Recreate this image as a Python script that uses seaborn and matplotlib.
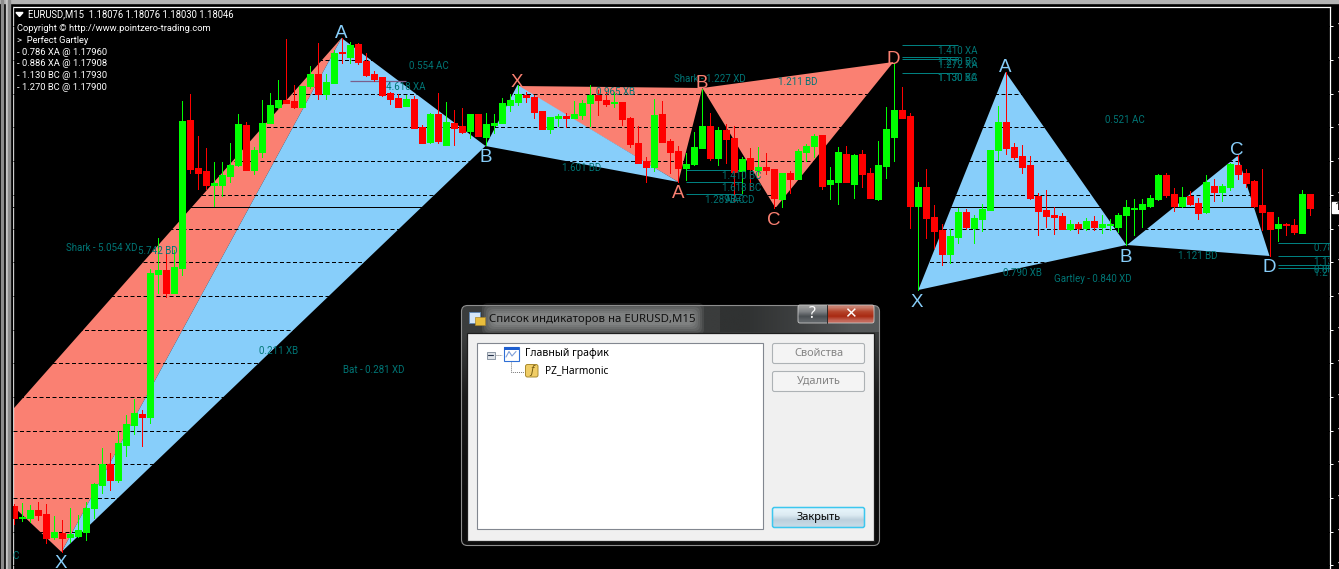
import numpy as np
import pandas as pd
import matplotlib
matplotlib.use("Agg")
import matplotlib.pyplot as plt
from matplotlib.patches import Rectangle, FancyBboxPatch, Polygon
import seaborn as sns

# EURUSD M15 candles, chart points above the base level
open_pts = [94, 82, 82, 90, 86, 63, 67, 63, 64, 68,
            92, 115, 136, 120, 155, 175, 186, 183, 326, 330,
            307, 332, 480, 432, 429, 415, 415, 424, 435, 475,
            430, 448, 477, 493, 500, 499, 493, 514, 526, 506,
            517, 548, 543, 556, 539, 526, 523, 507, 502, 494,
            501, 473, 458, 486, 455, 477, 474, 469, 486, 463,
            475, 477, 495, 498, 505, 503, 489, 471, 482, 484,
            482, 485, 497, 505, 500, 497, 498, 482, 457, 439,
            433, 486, 459, 449, 432, 436, 452, 474, 442, 470,
            462, 429, 442, 430, 433, 431, 401, 427, 421, 448,
            454, 465, 416, 418, 446, 416, 446, 427, 401, 434,
            463, 490, 484, 394, 413, 383, 370, 346, 363, 388,
            372, 381, 390, 450, 478, 453, 444, 435, 404, 390,
            385, 384, 371, 376, 372, 379, 373, 375, 373, 385,
            391, 391, 394, 401, 425, 406, 394, 404, 397, 388,
            414, 408, 413, 435, 427, 419, 395, 388, 372, 376,
            375, 367, 406]
close_pts = [82, 83, 90, 85, 62, 68, 62, 66, 70, 92,
             116, 136, 120, 157, 176, 187, 183, 327, 330, 307,
             333, 479, 431, 427, 415, 417, 425, 435, 476, 430,
             450, 477, 495, 500, 497, 493, 514, 526, 506, 518,
             547, 547, 555, 538, 525, 521, 505, 501, 493, 501,
             472, 457, 486, 459, 478, 472, 468, 486, 464, 476,
             477, 497, 500, 506, 503, 488, 471, 483, 484, 482,
             486, 497, 505, 500, 496, 498, 481, 456, 437, 433,
             485, 458, 448, 432, 436, 453, 474, 442, 470, 461,
             428, 441, 431, 433, 430, 402, 427, 421, 449, 454,
             464, 414, 420, 448, 418, 445, 426, 402, 435, 471,
             490, 482, 394, 413, 382, 369, 346, 364, 388, 373,
             382, 391, 450, 478, 452, 443, 433, 402, 389, 384,
             383, 371, 376, 372, 379, 373, 376, 376, 385, 393,
             392, 396, 402, 425, 405, 394, 403, 396, 387, 418,
             408, 414, 436, 426, 417, 394, 388, 371, 376, 375,
             368, 406, 392]
high_pts = [96, 97, 95, 98, 96, 84, 80, 92, 85, 98,
            117, 152, 147, 169, 185, 201, 190, 331, 362, 347,
            350, 499, 506, 464, 452, 438, 438, 457, 486, 478,
            453, 500, 507, 520, 561, 515, 514, 534, 557, 526,
            550, 562, 558, 557, 547, 529, 523, 508, 506, 505,
            504, 475, 487, 507, 498, 490, 492, 486, 486, 487,
            486, 502, 506, 515, 508, 505, 489, 483, 486, 487,
            499, 500, 515, 510, 508, 508, 498, 483, 474, 443,
            501, 499, 461, 454, 447, 468, 511, 487, 473, 476,
            474, 443, 452, 453, 447, 431, 427, 429, 451, 456,
            466, 465, 433, 453, 454, 446, 450, 432, 459, 493,
            537, 513, 487, 418, 431, 395, 376, 371, 392, 391,
            385, 396, 450, 494, 528, 457, 455, 444, 407, 410,
            393, 387, 380, 378, 382, 384, 385, 381, 387, 400,
            401, 401, 405, 426, 427, 412, 413, 409, 402, 425,
            421, 416, 437, 446, 431, 420, 431, 388, 383, 377,
            381, 410, 406]
low_pts = [76, 79, 78, 80, 57, 61, 48, 58, 63, 60,
           82, 107, 110, 118, 144, 166, 154, 177, 307, 303,
           307, 325, 427, 411, 411, 394, 404, 418, 434, 430,
           426, 443, 477, 492, 497, 492, 493, 512, 501, 501,
           517, 537, 537, 536, 524, 519, 504, 496, 493, 494,
           472, 457, 457, 457, 455, 455, 467, 462, 464, 455,
           467, 477, 489, 495, 498, 482, 471, 467, 474, 473,
           482, 481, 474, 485, 494, 493, 475, 453, 437, 418,
           429, 458, 427, 418, 420, 435, 452, 440, 435, 437,
           399, 407, 410, 425, 426, 392, 393, 407, 421, 439,
           443, 411, 401, 396, 418, 402, 413, 402, 400, 422,
           439, 482, 372, 310, 362, 352, 335, 337, 357, 371,
           357, 369, 390, 440, 446, 441, 427, 401, 365, 373,
           366, 371, 370, 367, 370, 370, 367, 370, 368, 355,
           365, 373, 393, 400, 403, 389, 393, 395, 381, 387,
           399, 399, 410, 421, 413, 393, 370, 344, 359, 365,
           366, 367, 385]

# harmonic patterns: (bar, chart points) of each triangle
salmon_bars = [[-4.9, 42, 7], [64, 87.1, 84.1], [87.1, 111, 96.25]]
salmon_pts = [[138, 562, 48], [514, 512, 418], [512, 538, 392]]
blue_bars = [[7, 42, 60], [60, 64, 84.1], [114.1, 125, 140.1], [140.2, 154, 158]]
blue_pts = [[48, 562, 454], [454, 515, 418], [310, 528, 355], [355, 444, 344]]

# ratio level segments
level_start = [85, 85, 85, 112, 112, 112, 112, 159, 159, 159, 159]
level_end = [92.1, 92.1, 92.1, 119, 119, 119, 119, 166, 166, 166, 166]
level_pts = [429.7, 417.7, 405.7, 555, 543, 541, 527, 357, 344, 335, 332]

grid_prices = [1.1720, 1.1728, 1.1736, 1.1744, 1.1752, 1.1760, 1.1768, 1.1776, 1.1784,
               1.1792, 1.1800, 1.1808, 1.1816, 1.1824, 1.1832, 1.1840, 1.1848]
bid_price = 1.1805

header_lines = ["Copyright © http://www.pointzero-trading.com", ">  Perfect Gartley",
                "- 0.786 XA @ 1.17960", "- 0.886 XA @ 1.17908",
                "- 1.130 BC @ 1.17930", "- 1.270 BC @ 1.17900"]

BASE_PRICE = 1.18
BASE_PTS = 371.5
POINT = 2.3746e-5
W, H = 1339, 569
SALMON = "#FA8072"
SKY = "#87CEFA"
TEAL = "#007575"
CHART_FONT = "Roboto"


def to_price(pts):
    return BASE_PRICE + (np.asarray(pts, dtype=float) - BASE_PTS) * POINT


bars = np.arange(1, len(open_pts) + 1)
direction = np.where(np.array(close_pts) >= np.array(open_pts), "up", "down")
df = pd.DataFrame({"bar": bars, "open": to_price(open_pts), "close": to_price(close_pts),
                   "high": to_price(high_pts), "low": to_price(low_pts), "dir": direction})
wicks = df.melt(id_vars=["bar", "dir"], value_vars=["high", "low"], value_name="price")
bodies = df.melt(id_vars=["bar", "dir"], value_vars=["open", "close"], value_name="price")

sns.set_theme(style="dark", rc={"axes.facecolor": "black", "figure.facecolor": "black",
                                "savefig.facecolor": "black"})
plt.rcParams["font.family"] = ["Noto Sans", "DejaVu Sans"]

fig = plt.figure(figsize=(W / 100, H / 100), dpi=100)
ax = fig.add_axes([12.5 / W, 0, (1329.5 - 12.5) / W, (H - 6.5) / H])

for xs, ys in zip(salmon_bars, salmon_pts):
    ax.fill(xs, to_price(ys), color=SALMON, lw=0, zorder=1)
for xs, ys in zip(blue_bars, blue_pts):
    ax.fill(xs, to_price(ys), color=SKY, lw=0, zorder=1)

candle_colors = {"up": "#00FF00", "down": "#FF0000"}
sns.lineplot(data=wicks, x="bar", y="price", hue="dir", units="bar", estimator=None, sort=False,
             palette=candle_colors, lw=0.72, legend=False, ax=ax, zorder=3,
             solid_capstyle="butt", antialiased=False)
sns.lineplot(data=bodies, x="bar", y="price", hue="dir", units="bar", estimator=None, sort=False,
             palette=candle_colors, lw=3.7, legend=False, ax=ax, zorder=3.1,
             solid_capstyle="butt", antialiased=False)

ax.hlines(to_price(level_pts), level_start, level_end, color="#008080", lw=0.72, zorder=2.7)
ax.hlines(to_price(519), 43, 50, color="#7a5f8c", lw=0.9, zorder=2.7)
ax.axhline(bid_price, color="black", lw=0.72, zorder=2.6)

ax.set_xlim((12.5 - 5.5) / 8, (1329.5 - 5.5) / 8)
ax.set_ylim(to_price(600 - 569), to_price(600 - 6.5))
ax.set_xlabel("")
ax.set_ylabel("")
ax.set_xticks([])
ax.set_yticks(grid_prices)
ax.set_yticklabels([f"{p:.5f}" for p in grid_prices])
ax.yaxis.tick_right()
ax.tick_params(axis="y", right=True, left=False, length=2.2, width=0.72, color="white",
               labelcolor="white", labelsize=8, pad=2.4)
ax.grid(axis="y", color="black", lw=0.72, ls=(0, (4, 2.5)))
ax.set_axisbelow(False)
for side in ["top", "left", "right"]:
    ax.spines[side].set_color("white")
    ax.spines[side].set_linewidth(0.9)
ax.spines["bottom"].set_visible(False)

# everything that is not price data sits on a pixel overlay
ov = fig.add_axes([0, 0, 1, 1], zorder=10)
ov.set_axis_off()
ov.patch.set_alpha(0)


def box(x0, y0, x1, y1, **kw):
    ov.add_patch(Rectangle((x0, y0), x1 - x0, y1 - y0, **kw))


def gradient(x0, y0, x1, y1, colors, zorder=3, horizontal=False):
    rgb = np.array([matplotlib.colors.to_rgb(c) for c in colors])
    rgb = rgb[None, :, :] if horizontal else rgb[:, None, :]
    return ov.imshow(rgb, extent=(x0, x1, y1, y0), aspect="auto", interpolation="bilinear",
                     zorder=zorder)


def label(x, y, s, color=TEAL, size=7.0, ha="left", family=CHART_FONT, **kw):
    return ov.text(x, y, s, color=color, fontsize=size, ha=ha, va="center", family=family, **kw)


# terminal chrome
box(0, 0, 12, H, color="black", zorder=1)
box(0, 0, W, 2.5, color="#b4b4b4", zorder=1.1)
box(1, 0, 2.6, H, color="#8c8c8c", zorder=1.1)
box(6, 0, 6.9, H, color="#c8c8c8", zorder=1.1)
box(8, 0, 9.6, H, color="#8c8c8c", zorder=1.1)

# header
ov.add_patch(Polygon([(16, 12.5), (23, 12.5), (19.5, 16.5)], color="white", zorder=2))
label(28.5, 14.5, "EURUSD,M15  1.18076 1.18076 1.18030 1.18046", "white", 6.87)
for y, s in zip([28, 40, 52, 63.5, 75.5, 87.5], header_lines):
    label(17, y, s, "white", 6.75)

# ratio texts
for x, y, s in [(409, 66, "0.554 AC"), (386, 87, "4.618 XA"), (66, 248, "Shark - 5.054 XD"),
                (138, 251, "5.742 BD"), (259, 350.5, "0.211 XB"), (343, 369.5, "Bat - 0.281 XD"),
                (596, 92, "0.965 XB"), (674, 79, "Shark - 1.227 XD"), (778, 82, "1.211 BD"),
                (562, 168, "1.601 BD"), (722, 176, "1.410 BC"), (722, 188, "1.618 BC"),
                (705, 200, "1.289 AC"), (725, 199.5, "AB=CD"),
                (938, 50.5, "1.410 XA"), (938, 61.5, "1.270 BC"), (938, 64.5, "1.272 XA"),
                (938, 78, "1.130 BC"), (938, 78, "1.130 XA"),
                (1105, 119.5, "0.521 AC"), (1003, 272.5, "0.790 XB"),
                (1054, 278.5, "Gartley - 0.840 XD"), (1178, 255.5, "1.121 BD")]:
    label(x, y, s)
for y, s in [(248, "0.786 XA"), (262, "1.130 BC"), (270, "0.886 XA"), (273, "1.270 BC")]:
    t = label(1314, y, s, zorder=5, clip_on=True)
    t.set_clip_path(Rectangle((0, 0), 1329, H, transform=ov.transData))
t = label(12.5, 556, "C", clip_on=True)
t.set_clip_path(Rectangle((13, 0), W, H, transform=ov.transData))

# pattern points
for x, y, s, c in [(341, 33, "A", SKY), (61, 563, "X", SKY), (486, 157, "B", SKY),
                   (517, 82, "X", SALMON), (678, 193, "A", SALMON), (702, 83, "B", SALMON),
                   (773.5, 220, "C", SALMON), (893, 59, "D", SALMON), (1005.5, 67, "A", SKY),
                   (917, 302, "X", SKY), (1126, 257, "B", SKY), (1237, 150, "C", SKY),
                   (1269, 267, "D", SKY)]:
    ov.text(x, y, s, color=c, fontsize=13.5, ha="center", va="center",
            family="Liberation Sans", zorder=5)

# bid tag on the price scale
box(1332, 202, W, 213, color="white", zorder=5)
ov.text(1334.5, 207.5, "1.18046", color="black", fontsize=8, va="center", zorder=6)

# indicators dialog
frame_clip = FancyBboxPatch((461.5, 305.5), 418, 240, boxstyle="round,pad=0,rounding_size=6",
                            transform=ov.transData, fc="none", ec="none")
body_img = gradient(462, 306, 879, 545, ["#3a3c3c", "#1c1c1c", "#101010", "#0c0c0c"])
body_img.set_clip_path(frame_clip)
right_img = gradient(720, 306, 879, 332, ["#303232", "#3e4041", "#555859"], zorder=3.1,
                     horizontal=True)
right_img.set_clip_path(frame_clip)
ov.add_patch(FancyBboxPatch((461.5, 305.5), 418, 240, boxstyle="round,pad=0,rounding_size=6",
                            fc="none", ec="#8e8e8e", lw=0.8, zorder=3.5))
for pad in [10, 8, 6, 4, 2, 0]:
    ov.add_patch(FancyBboxPatch((492 - pad, 313 - pad), 202 + 2 * pad, 12 + 2 * pad,
                                boxstyle="round,pad=0,rounding_size=6", fc="#e0e0e0",
                                ec="none", alpha=0.09, zorder=3.2))
box(466.5, 332.5, 873.5, 540.5, fc="#f0f0f0", ec="#1e1e1e", lw=0.9, zorder=4)
box(476.5, 342.5, 762.5, 528.5, fc="white", ec="#828790", lw=0.8, zorder=4.1)

# title icon
box(469, 312, 480, 323, fc="#d6e6f7", ec="#5d86b5", lw=0.6, zorder=4.2)
box(475, 317, 484.5, 325, fc="#e9bd3c", ec="#a9852a", lw=0.5, zorder=4.3)
label(489, 319, "Список индикаторов на EURUSD,M15", "#111111", 8.2, family="Noto Sans", zorder=5)

# caption buttons
gradient(798, 305, 827, 323, ["#9a9a9a", "#7d8083", "#4a4f53", "#5f6468"], zorder=4)
gradient(827, 305, 874, 323, ["#c9806f", "#b5442b", "#a92a12", "#c4685a"], zorder=4)
ov.add_patch(FancyBboxPatch((798, 305), 76, 18, boxstyle="round,pad=0,rounding_size=2",
                            fc="none", ec="#c9c9c9", lw=0.6, zorder=4.2))
ov.plot([827, 827], [305, 323], color="#2a2a2a", lw=0.7, zorder=4.2)
ov.text(812.5, 314, "?", color="white", fontsize=11.5, fontweight="bold", ha="center",
        va="center", zorder=5)
ov.text(850.5, 314, "✕", color="white", fontsize=11, fontweight="bold", ha="center",
        va="center", family="DejaVu Sans", zorder=5)

# tree
box(486.5, 351.5, 494.5, 358.5, fc="#dfe3e8", ec="#7e8a99", lw=0.6, zorder=4.3)
ov.plot([488, 493], [355, 355], color="#25324a", lw=0.8, zorder=4.4)
ov.plot([495.5, 502], [354.5, 354.5], color="#777777", lw=0.7, ls=(0, (1, 1)), zorder=4.3)
ov.plot([511, 511, 524], [362, 372, 372], color="#777777", lw=0.7, ls=(0, (1, 1)), zorder=4.3)
box(503.5, 346.5, 518.5, 360.5, fc="white", ec="#2f6fd6", lw=0.8, zorder=4.3)
box(503.5, 346.5, 518.5, 349.5, fc="#1f5fd0", ec="none", zorder=4.4)
ov.plot([506, 509, 512, 516], [357, 351.5, 356, 351.5], color="#7f9fd8", lw=0.8, zorder=4.4)
label(525, 353, "Главный график", "black", 7.55, family="Noto Sans", zorder=5)
ov.add_patch(FancyBboxPatch((525.5, 364.5), 12.5, 12.5, boxstyle="round,pad=0,rounding_size=2",
                            fc="#f0cd66", ec="#a98a2d", lw=0.7, zorder=4.3))
ov.text(531.5, 370.5, "f", color="#6d5510", fontsize=7.5, style="italic", fontweight="bold",
        ha="center", va="center", zorder=5)
label(545, 371, "PZ_Harmonic", "black", 7.3, family="Noto Sans", zorder=5)

# buttons
for y0, y1, s in [(343.5, 363.5, "Свойства"), (371.5, 391.5, "Удалить")]:
    ov.add_patch(FancyBboxPatch((772.5, y0), 92, y1 - y0, boxstyle="round,pad=0,rounding_size=2",
                                fc="#f4f4f4", ec="#adb2b5", lw=0.8, zorder=4.3))
    label(818.5, (y0 + y1) / 2, s, "#838383", 7.9, ha="center", family="Noto Sans", zorder=5)
gradient(773, 508, 864, 527, ["#e4f2f9", "#dceaf2", "#bccfdc", "#c6d9e5"], zorder=4.3)
ov.add_patch(FancyBboxPatch((772.5, 507.5), 92, 20, boxstyle="round,pad=0,rounding_size=2",
                            fc="none", ec="#3cc7ef", lw=1.1, zorder=4.4))
label(818.5, 517.5, "Закрыть", "black", 7.9, ha="center", family="Noto Sans", zorder=5)

ov.set_xlim(0, W)
ov.set_ylim(H, 0)
fig.savefig("out.png", dpi=100)
